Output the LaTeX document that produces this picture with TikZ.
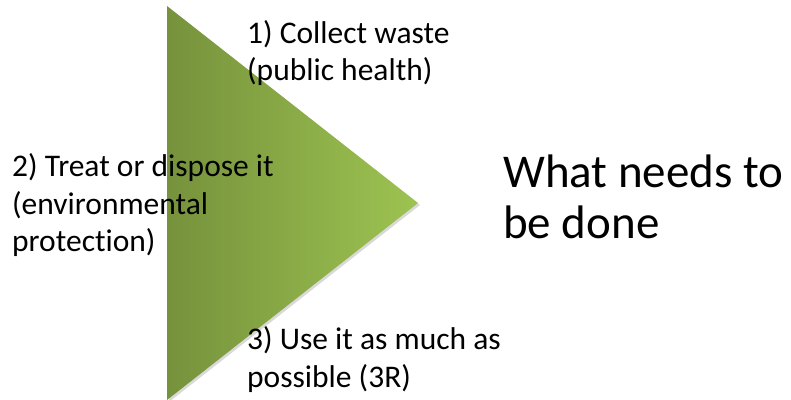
\documentclass[tikz,border=0pt]{standalone}
\usepackage{fontspec}
\setmainfont[Ligatures=NoCommon]{Carlito}
\usepackage{xcolor}
\definecolor{oliveleft}{HTML}{76923C}
\definecolor{oliveright}{HTML}{9DC351}
\tikzset{
  steplabel/.style={anchor=base west, align=left, inner sep=0pt,
    font=\fontsize{31.5}{37.5}\selectfont},
  goallabel/.style={anchor=base west, align=left, inner sep=0pt,
    font=\fontsize{47}{51}\selectfont}
}

\begin{document}
\begin{tikzpicture}[x=1pt, y=-1pt]
% the page is 791 by 399, y grows downwards
\useasboundingbox (0,0) rectangle (791,399);

% the arrow triangle, with a faint shadow under it
\coordinate (tip) at (418,203);
\coordinate (top) at (167,6);
\coordinate (bottom) at (167,400);
\fill[gray!30] ([shift={(2,2)}]top) -- ([shift={(2,2)}]tip) -- ([shift={(2,2)}]bottom) -- cycle;
\shade[left color=oliveleft, right color=oliveright] (top) -- (tip) -- (bottom) -- cycle;

% the three steps (base anchor sits on the last line)
\node[steplabel] (collect) at (247,80.5) {1) Collect waste\\(public health)};
\node[steplabel] (treat) at (12,251.7) {2) Treat or dispose it\\(environmental\\protection)};
\node[steplabel] (reuse) at (247,387) {3) Use it as much as\\possible (3R)};

% what it is all for
\node[goallabel] (goal) at (503,238) {What needs to\\be done};
\end{tikzpicture}
\end{document}
